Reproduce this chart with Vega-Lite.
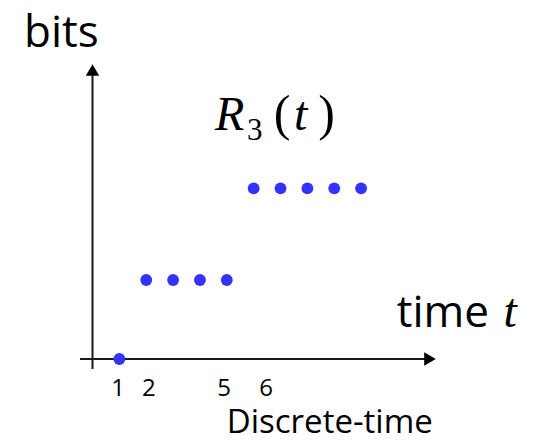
{
  "$schema": "https://vega.github.io/schema/vega-lite/v6.json",
  "width": 539,
  "height": 441,
  "padding": 0,
  "autosize": {"type": "none"},
  "background": "white",
  "config": {"view": {"stroke": null}},
  "encoding": {
    "x": {"field": "t", "type": "quantitative", "scale": {"domain": [-3.444, 16.623], "nice": false, "zero": false}, "axis": null},
    "y": {"field": "v", "type": "quantitative", "scale": {"domain": [-1.038, 4.544], "nice": false, "zero": false}, "axis": null}
  },
  "layer": [
    {
      "data": {"values": [
        {"t": -0.465, "v": 0, "t2": 12.5, "v2": 0},
        {"t": 0, "v": -0.127, "t2": 0, "v2": 3.6}
      ]},
      "mark": {"type": "rule", "color": "#1a1a1a", "strokeWidth": 2},
      "encoding": {"x2": {"field": "t2"}, "y2": {"field": "v2"}}
    },
    {
      "data": {"values": [{"t": 12.565, "v": 0}]},
      "mark": {"type": "point", "shape": "triangle-right", "filled": true, "color": "#000000", "size": 180, "opacity": 1}
    },
    {
      "data": {"values": [{"t": 0, "v": 3.658}]},
      "mark": {"type": "point", "shape": "triangle-up", "filled": true, "color": "#000000", "size": 180, "opacity": 1}
    },
    {
      "data": {"values": [
        {"t": 1, "v": 0},
        {"t": 2, "v": 1}, {"t": 3, "v": 1}, {"t": 4, "v": 1}, {"t": 5, "v": 1},
        {"t": 6, "v": 2.16}, {"t": 7, "v": 2.16}, {"t": 8, "v": 2.16}, {"t": 9, "v": 2.16}, {"t": 10, "v": 2.16}
      ]},
      "mark": {"type": "circle", "color": "#3333ff", "size": 140, "opacity": 1}
    },
    {
      "data": {"values": [
        {"t": 0.95, "v": -0.468, "label": "1"},
        {"t": 2.1, "v": -0.468, "label": "2"},
        {"t": 4.9, "v": -0.468, "label": "5"},
        {"t": 6.46, "v": -0.468, "label": "6"}
      ]},
      "mark": {"type": "text", "font": "Open Sans", "fontSize": 24, "align": "center", "baseline": "alphabetic", "color": "#000000"},
      "encoding": {"text": {"field": "label"}}
    },
    {
      "data": {"values": [
        {"t": -2.55, "v": 3.949, "label": "bits"},
        {"t": 11.33, "v": 0.405, "label": "time"}
      ]},
      "mark": {"type": "text", "font": "Open Sans", "fontSize": 44, "align": "left", "baseline": "alphabetic", "color": "#000000"},
      "encoding": {"text": {"field": "label"}}
    },
    {
      "data": {"values": [
        {"t": 5.0, "v": -0.94, "label": "Discrete-time"}
      ]},
      "mark": {"type": "text", "font": "Open Sans", "fontSize": 33, "align": "left", "baseline": "alphabetic", "color": "#000000"},
      "encoding": {"text": {"field": "label"}}
    },
    {
      "data": {"values": [
        {"t": 15.3, "v": 0.405, "label": "t"},
        {"t": 4.56, "v": 2.899, "label": "R"},
        {"t": 7.5, "v": 2.899, "label": "t"}
      ]},
      "mark": {"type": "text", "font": "Liberation Serif", "fontStyle": "italic", "fontSize": 48, "align": "left", "baseline": "alphabetic", "color": "#000000"},
      "encoding": {"text": {"field": "label"}}
    },
    {
      "data": {"values": [
        {"t": 6.75, "v": 2.899, "label": "("},
        {"t": 8.4, "v": 2.899, "label": ")"}
      ]},
      "mark": {"type": "text", "font": "Liberation Serif", "fontSize": 50, "align": "left", "baseline": "alphabetic", "color": "#000000"},
      "encoding": {"text": {"field": "label"}}
    },
    {
      "data": {"values": [
        {"t": 5.752, "v": 2.772, "label": "3"}
      ]},
      "mark": {"type": "text", "font": "Liberation Serif", "fontSize": 31, "align": "left", "baseline": "alphabetic", "color": "#000000"},
      "encoding": {"text": {"field": "label"}}
    }
  ]
}
